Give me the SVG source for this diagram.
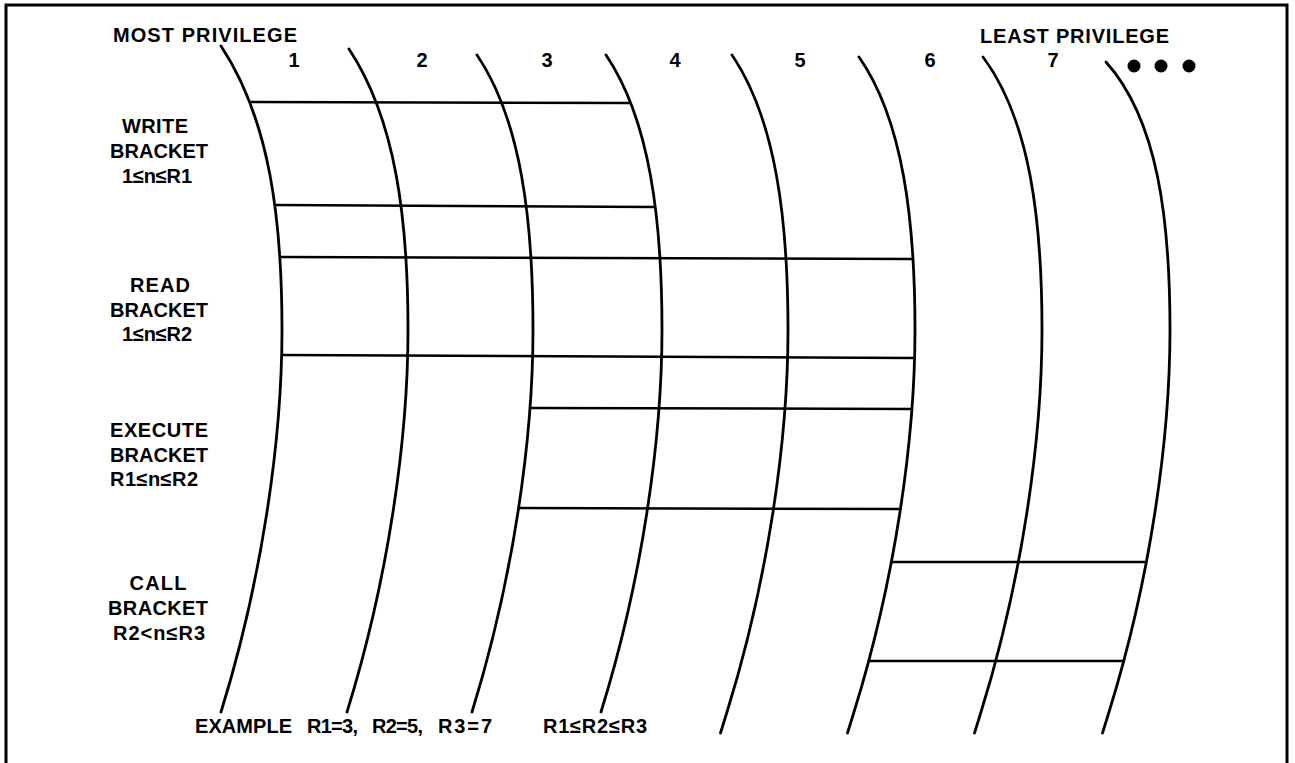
<svg xmlns="http://www.w3.org/2000/svg" width="1295" height="763" viewBox="0 0 1295 763">
<style>
.t{font-family:"Liberation Sans",Arial,sans-serif;font-weight:bold;font-size:20px;fill:#000}
.m{text-anchor:middle}
.arc{fill:none;stroke:#000;stroke-width:2.8;stroke-linecap:round}
.br{fill:none;stroke:#000;stroke-width:2.5}
.frame{fill:none;stroke:#000;stroke-width:3}
</style>
<rect width="1295" height="763" fill="#fff"/>
<g id="frame"><path class="frame" d="M6,763 V5 H1287 V763"/></g>
<g id="rings">
<path id="ring1" class="arc" d="M221,46 C270,120 282,220 282,330 C282,440 262,580 221,712"/>
<path id="ring2" class="arc" d="M349,49 C396,120 408,220 408,330 C408,440 388,580 347,712"/>
<path id="ring3" class="arc" d="M477,55 C521,120 533,220 533,330 C533,440 513,580 472,712"/>
<path id="ring4" class="arc" d="M606,55 C650,120 662,220 662,330 C662,440 642,580 601,712"/>
<path id="ring5" class="arc" d="M732,55 C776,120 788,220 788,330 C788,440 768,580 727,712 L720.5,733"/>
<path id="ring6" class="arc" d="M859,57 C903,120 915,220 915,330 C915,440 895,580 854,712 L847.5,733"/>
<path id="ring7" class="arc" d="M983,57 C1030,120 1042,220 1042,330 C1042,440 1022,580 981,712 L974.5,733"/>
<path id="ring8" class="arc" d="M1106,62 C1158,120 1170,220 1170,330 C1170,440 1150,580 1109,712 L1102.5,733"/>
</g>
<g id="connectors">
<line class="br" x1="250" y1="102" x2="630" y2="103"/>
<line class="br" x1="275" y1="205" x2="655" y2="207"/>
<line class="br" x1="280" y1="257" x2="913" y2="259"/>
<line class="br" x1="282" y1="355" x2="914" y2="358"/>
<line class="br" x1="529" y1="408" x2="911" y2="409"/>
<line class="br" x1="518" y1="508" x2="899" y2="509"/>
<line class="br" x1="891" y1="562" x2="1145" y2="562"/>
<line class="br" x1="869" y1="661" x2="1123" y2="661"/>
</g>
<g id="header">
<text class="t" x="113" y="42" textLength="184" lengthAdjust="spacing">MOST PRIVILEGE</text>
<text class="t" x="980" y="43" textLength="189" lengthAdjust="spacing">LEAST PRIVILEGE</text>
<text class="t m" x="294" y="67">1</text>
<text class="t m" x="422" y="67">2</text>
<text class="t m" x="547" y="67">3</text>
<text class="t m" x="675" y="67">4</text>
<text class="t m" x="800" y="67">5</text>
<text class="t m" x="930" y="67">6</text>
<text class="t m" x="1053" y="67">7</text>
<circle cx="1134" cy="66" r="6.5"/>
<circle cx="1161" cy="66" r="6.5"/>
<circle cx="1189" cy="66" r="6.5"/>
</g>
<g id="write-bracket">
<text class="t m" x="155" y="133" textLength="66" lengthAdjust="spacing">WRITE</text>
<text class="t m" x="159" y="158" textLength="98" lengthAdjust="spacing">BRACKET</text>
<text class="t m" x="157" y="183" textLength="70" lengthAdjust="spacing">1≤n≤R1</text>
</g>
<g id="read-bracket">
<text class="t m" x="160" y="292" textLength="60" lengthAdjust="spacing">READ</text>
<text class="t m" x="159" y="317" textLength="98" lengthAdjust="spacing">BRACKET</text>
<text class="t m" x="157" y="341" textLength="70" lengthAdjust="spacing">1≤n≤R2</text>
</g>
<g id="execute-bracket">
<text class="t m" x="159" y="437" textLength="98" lengthAdjust="spacing">EXECUTE</text>
<text class="t m" x="159" y="462" textLength="98" lengthAdjust="spacing">BRACKET</text>
<text class="t m" x="154" y="486" textLength="88" lengthAdjust="spacing">R1≤n≤R2</text>
</g>
<g id="call-bracket">
<text class="t m" x="158" y="590" textLength="57" lengthAdjust="spacing">CALL</text>
<text class="t m" x="158" y="615" textLength="100" lengthAdjust="spacing">BRACKET</text>
<text class="t m" x="159" y="640" textLength="92" lengthAdjust="spacing">R2&lt;n≤R3</text>
</g>
<g id="example">
<text class="t" y="733"><tspan x="195" textLength="97" lengthAdjust="spacing">EXAMPLE</tspan><tspan x="307" textLength="51" lengthAdjust="spacing">R1=3,</tspan><tspan x="372" textLength="51" lengthAdjust="spacing">R2=5,</tspan><tspan x="438" textLength="54" lengthAdjust="spacing">R3=7</tspan></text>
<text class="t" x="543" y="733" textLength="104" lengthAdjust="spacing">R1≤R2≤R3</text>
</g>
</svg>
